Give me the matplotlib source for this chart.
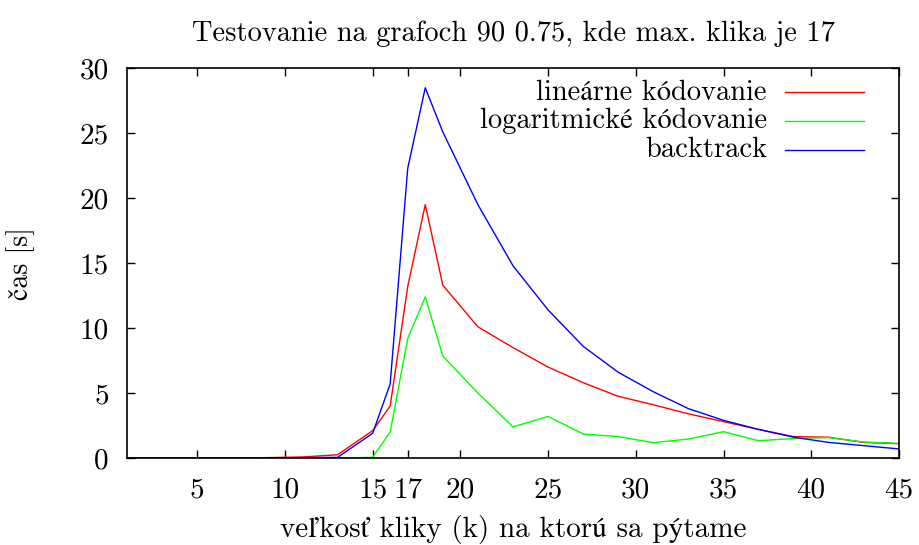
import matplotlib
matplotlib.use("Agg")
import matplotlib.pyplot as plt
from matplotlib.lines import Line2D

plt.rcParams['font.family'] = ['cmr10', 'STIXGeneral']
plt.rcParams['axes.formatter.use_mathtext'] = True

# velkost kliky k
k = [1, 3, 5, 7, 9, 11, 13, 15, 16, 17, 18, 19, 21, 23, 25, 27, 29, 31, 33, 35, 37, 39, 41, 43, 45]
# cas v sekundach
linearne = [0.0, 0.0, 0.0, 0.01, 0.03, 0.08, 0.25, 2.1, 4.0, 13.2, 19.5, 13.3, 10.1, 8.5, 7.0, 5.8,
            4.75, 4.1, 3.4, 2.8, 2.2, 1.65, 1.6, 1.2, 1.1]
logaritmicke = [0.0, 0.0, 0.0, 0.0, 0.0, 0.0, 0.0, 0.05, 2.0, 9.2, 12.4, 7.85, 5.0, 2.4, 3.2, 1.85,
                1.65, 1.18, 1.46, 2.03, 1.33, 1.5, 1.57, 1.23, 1.13]
backtrack = [0.0, 0.0, 0.0, 0.0, 0.01, 0.03, 0.05, 1.9, 5.7, 22.3, 28.5, 25.1, 19.5, 14.8, 11.4, 8.6,
             6.6, 5.1, 3.8, 2.9, 2.2, 1.6, 1.2, 0.95, 0.7]

xticks = [5, 10, 15, 17, 20, 25, 30, 35, 40, 45]
yticks = [0, 5, 10, 15, 20, 25, 30]

series = [
    ("lineárne kódovanie", linearne, "#ff0000"),
    ("logaritmické kódovanie", logaritmicke, "#00ff00"),
    ("backtrack", backtrack, "#0000ff"),
]

fig = plt.figure(figsize=(9.19, 5.45), dpi=100)
ax = fig.add_axes([0.1382, 0.1596, 0.8400, 0.7151])

for name, vals, col in series:
    ax.plot(k, vals, color=col, lw=1.0)

ax.set_xlim(1, 45)
ax.set_ylim(0, 30)
ax.set_xticks(xticks)
ax.set_xticklabels([str(t) for t in xticks])
ax.set_yticks(yticks)
ax.set_yticklabels([str(t) for t in yticks])
ax.tick_params(direction='in', length=6, width=1, top=True, right=True, labelsize=21)
ax.tick_params(axis='x', pad=14)
ax.tick_params(axis='y', pad=13)
for s in ax.spines.values():
    s.set_linewidth(1.2)

# legenda: text zarovnany doprava, ciara za nim
for i, (name, vals, col) in enumerate(series):
    yy = 0.938 - i * 0.074
    ax.text(0.829, yy, name, transform=ax.transAxes, ha='right', va='center', fontsize=20.5)
    ax.add_line(Line2D([0.852, 0.955], [yy, yy], transform=ax.transAxes, color=col, lw=1.0))

ax.set_title("Testovanie na grafoch 90 0.75, kde max. klika je 17", fontsize=20.5, pad=20)
ax.set_xlabel("veľkosť kliky (k) na ktorú sa pýtame", fontsize=21, labelpad=8)
ax.set_ylabel("čas [s]", fontsize=20, labelpad=32)

fig.savefig("out.png", dpi=100)
